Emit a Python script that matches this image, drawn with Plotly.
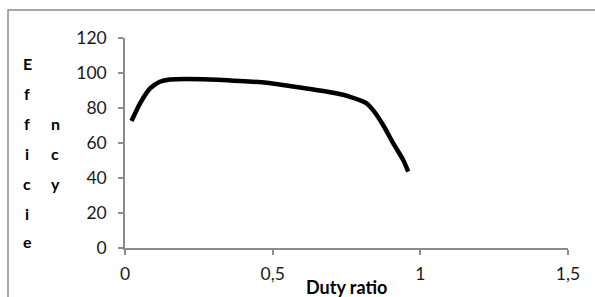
import plotly.graph_objects as go

duty_ratio = [0.022, 0.051, 0.085, 0.118, 0.152, 0.265, 0.389, 0.48, 0.62, 0.705, 0.762,
              0.818, 0.84, 0.874, 0.908, 0.942, 0.959]
efficiency = [72.6, 82.7, 91.2, 95.0, 96.3, 96.5, 95.5, 94.4, 91.0, 88.7, 86.4,
              82.7, 78.8, 70.3, 59.9, 50.3, 43.7]

x_tickvals = [0, 0.5, 1, 1.5]
x_ticktext = ["0", "0,5", "1", "1,5"]
y_tickvals = [0, 20, 40, 60, 80, 100, 120]

W, H = 595, 297
L, R, T, B = 125, 27, 38, 49
pw, ph = W - L - R, H - T - B

def px(xp):
    return (xp - L) / pw

def py(yp):
    return (H - B - yp) / ph

fig = go.Figure()
fig.add_trace(go.Scatter(
    x=duty_ratio, y=efficiency, mode="lines",
    line=dict(color="black", width=4.5, shape="spline", smoothing=0.6),
    showlegend=False, hoverinfo="skip"))

font = dict(family="Lato, Carlito, Liberation Sans, sans-serif", size=17.5, color="#1a1a1a")
axis_col = "#8c8c8c"
fig.update_layout(
    width=W, height=H,
    margin=dict(l=L, r=R, t=T, b=B),
    paper_bgcolor="white", plot_bgcolor="white",
    font=font,
    xaxis=dict(range=[0, 1.5], tickvals=x_tickvals, ticktext=x_ticktext,
               showgrid=False, zeroline=False, showline=True, linecolor=axis_col,
               linewidth=1.5, ticks="outside", ticklen=5, tickcolor=axis_col, tickwidth=1.5,
               ticklabelstandoff=4),
    yaxis=dict(range=[0, 120], tickvals=y_tickvals,
               showgrid=False, zeroline=False, showline=True, linecolor=axis_col,
               linewidth=1.5, ticks="outside", ticklen=5, tickcolor=axis_col, tickwidth=1.5,
               ticklabelstandoff=8),
)

# outer frame (top and left visible)
fig.add_shape(type="rect", xref="paper", yref="paper",
              x0=px(8), x1=px(610), y0=py(320), y1=py(10),
              line=dict(color=axis_col, width=1.5), layer="below")

bold = dict(family="Lato, Carlito, Liberation Sans, sans-serif", size=18, color="black")
fig.add_annotation(text="<b>Duty ratio</b>", xref="paper", yref="paper",
                   x=0.5, y=py(287), showarrow=False, font=bold, yanchor="middle")

col1 = ["E", "f", "f", "i", "c", "i", "e"]
col1_y = [63, 93, 123, 153, 183, 213, 241]
col2 = ["n", "c", "y"]
col2_y = [123, 153, 183]
letter = dict(family="Lato, Carlito, Liberation Sans, sans-serif", size=16, color="black")
for ch, yy in zip(col1, col1_y):
    fig.add_annotation(text="<b>%s</b>" % ch, xref="paper", yref="paper",
                       x=px(27), y=py(yy), showarrow=False, font=letter,
                       xanchor="center", yanchor="middle")
for ch, yy in zip(col2, col2_y):
    fig.add_annotation(text="<b>%s</b>" % ch, xref="paper", yref="paper",
                       x=px(55), y=py(yy), showarrow=False, font=letter,
                       xanchor="center", yanchor="middle")

fig.write_html("out.html", config={"displayModeBar": False},
               post_script="document.body.style.margin='0';")
